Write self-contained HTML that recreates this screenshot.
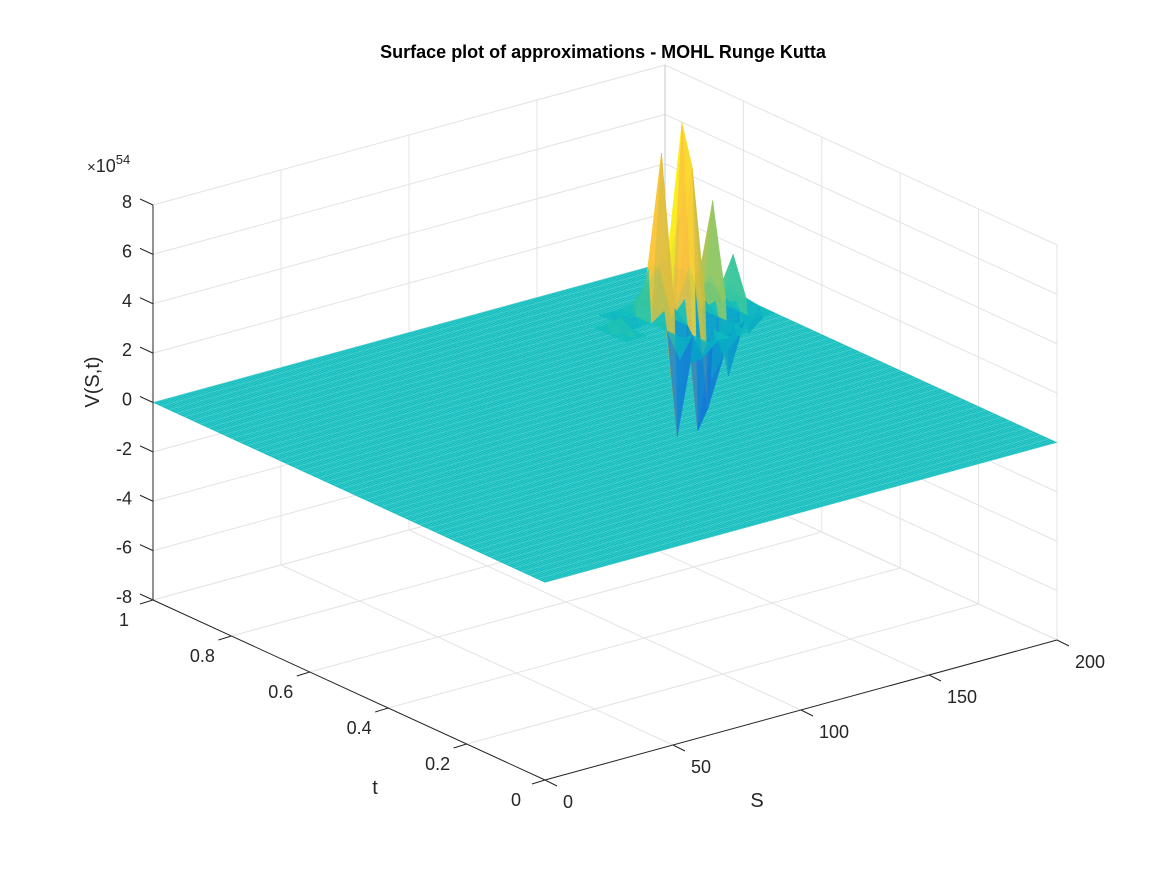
<!DOCTYPE html>
<html><head><meta charset="utf-8"><style>
html,body{margin:0;padding:0;background:#fff;}
svg{display:block;font-family:"Liberation Sans",Arial,sans-serif;}
</style></head><body>
<svg id="chart" width="1167" height="875" viewBox="0 0 1167 875" xmlns="http://www.w3.org/2000/svg">
<rect width="1167" height="875" fill="#fff"/>
<text x="603" y="58" text-anchor="middle" font-size="18" font-weight="bold" fill="#000">Surface plot of approximations - MOHL Runge Kutta</text>
<g id="grid"></g>
<g id="surf"></g>
<g id="axes"></g>
<text x="87" y="172" font-size="18" fill="#262626"><tspan font-size="15">×</tspan>10<tspan font-size="13" dy="-8">54</tspan></text>
<text transform="translate(99,382) rotate(-90)" text-anchor="middle" font-size="20" fill="#262626">V(S,t)</text>
<text x="375" y="794" text-anchor="middle" font-size="20" fill="#262626">t</text>
<text x="757" y="807" text-anchor="middle" font-size="20" fill="#262626">S</text>
</svg>
<script>
const sTicks=[0,50,100,150,200];
const tTicks=[0,0.2,0.4,0.6,0.8,1];
const zTicks=[-8,-6,-4,-2,0,2,4,6,8];
const sNodes=51, tNodes=26;
const spikeS=[168,176,180,188,196,168,176,180,188,196,168,176,184,172,180,152,160];
const spikeT=[0.80,0.80,0.80,0.80,0.80,0.76,0.76,0.76,0.76,0.76,0.84,0.84,0.84,0.72,0.72,0.80,0.84];
const spikeZ=[6.8,7.8,5.9,4.3,1.9,-4.4,-4.4,-3.6,-2.5,-1.0,1.2,1.6,1.0,-1.0,-1.2,0.6,-0.5];

const NS='http://www.w3.org/2000/svg';
const X0=545,Y0=780,SX=512/200,SY=-140/200,TX=-392,TY=-180,ZK=395/16;
function px(S,t,z){return [X0+S*SX+t*TX, Y0+S*SY+t*TY-(z+8)*ZK];}
function mk(tag,attrs,parent,name){const e=document.createElementNS(NS,tag);for(const k in attrs)e.setAttribute(k,attrs[k]);


parent.appendChild(e);return e;}
function line(a,b,stroke,w,parent,name){return mk('line',{x1:a[0],y1:a[1],x2:b[0],y2:b[1],stroke:stroke,'stroke-width':w},parent,name);}
const grid=document.getElementById('grid'),surf=document.getElementById('surf'),axes=document.getElementById('axes');
const gc='#e3e3e3';
sTicks.forEach(s=>line(px(s,0,-8),px(s,1,-8),gc,1,grid,'floor-gridline-s'));
tTicks.forEach(t=>line(px(0,t,-8),px(200,t,-8),gc,1,grid,'floor-gridline-t'));
zTicks.forEach(z=>line(px(0,1,z),px(200,1,z),gc,1,grid,'back-wall-gridline-z'));
sTicks.forEach(s=>line(px(s,1,-8),px(s,1,8),gc,1,grid,'back-wall-gridline-s'));
zTicks.forEach(z=>line(px(200,0,z),px(200,1,z),gc,1,grid,'side-wall-gridline-z'));
tTicks.forEach(t=>line(px(200,t,-8),px(200,t,8),gc,1,grid,'side-wall-gridline-t'));
line(px(200,1,-8),px(200,1,8),'#c8c8c8',1,grid,'back-corner-edge');

const stops=[[0,[53,42,135]],[0.1,[19,92,220]],[0.25,[20,133,212]],[0.4,[6,163,202]],[0.5,[15,190,190]],[0.6,[57,198,156]],[0.7,[125,203,115]],[0.8,[196,191,64]],[0.9,[252,189,61]],[1,[249,251,14]]];
function parula(z){let v=Math.max(0,Math.min(1,(z+8)/16));for(let i=1;i<stops.length;i++){if(v<=stops[i][0]){const a=stops[i-1],b=stops[i];const f=(v-a[0])/(b[0]-a[0]);return 'rgb('+a[1].map((c,k)=>Math.round(c+(b[1][k]-c)*f)).join(',')+')';}}return 'rgb(249,251,14)';}

const dS=200/(sNodes-1), dT=1/(tNodes-1);
const Z=[];for(let i=0;i<sNodes;i++){Z.push(new Array(tNodes).fill(0));}
spikeS.forEach((s,k)=>{const i=Math.round(s/dS),j=Math.round(spikeT[k]/dT);if(i>=0&&i<sNodes&&j>=0&&j<tNodes)Z[i][j]=spikeZ[k];});

const c=[px(0,0,0),px(200,0,0),px(200,1,0),px(0,1,0)];
mk('polygon',{points:c.map(p=>p.join(',')).join(' '),fill:'#0fbdbd'},surf,'surface-plane');
const mesh=mk('g',{},surf,'surface-mesh');
const meshDiv=4;
for(let i=0;i<=(sNodes-1)*meshDiv;i++)line(px(i*dS/meshDiv,0,0),px(i*dS/meshDiv,1,0),'#5fd3d3',0.5,mesh,'mesh-line-s');
for(let j=0;j<=(tNodes-1)*2;j++)line(px(0,j*dT/2,0),px(200,j*dT/2,0),'#5fd3d3',0.5,mesh,'mesh-line-t');
const faces=[];
for(let i=0;i<sNodes-1;i++)for(let j=0;j<tNodes-1;j++){
 const zs=[Z[i][j],Z[i+1][j],Z[i+1][j+1],Z[i][j+1]];
 if(zs.some(v=>v!==0))faces.push({i,j,zs,d:(i+0.5)*dS/200+(j+0.5)*dT});
}
faces.sort((a,b)=>b.d-a.d);
faces.forEach(f=>{
 const cs=[[f.i*dS,f.j*dT],[(f.i+1)*dS,f.j*dT],[(f.i+1)*dS,(f.j+1)*dT],[f.i*dS,(f.j+1)*dT]];
 // split into 4 triangles around centre for nicer peaks
 const zc=(f.zs[0]+f.zs[1]+f.zs[2]+f.zs[3])/4;
 const cc=[(f.i+0.5)*dS,(f.j+0.5)*dT];
 for(let k=0;k<4;k++){
  const a=cs[k],b=cs[(k+1)%4],za=f.zs[k],zb=f.zs[(k+1)%4];
  const pts=[px(a[0],a[1],za),px(b[0],b[1],zb),px(cc[0],cc[1],zc)];
  const m=Math.abs(za)>Math.abs(zb)?za:zb;
  const col=parula((m+zc)/2*1.5);
  mk('polygon',{points:pts.map(p=>p.join(',')).join(' '),fill:col,stroke:col,'stroke-width':0.4,opacity:0.8},surf,'spike-face');
 }
});

const ac='#262626';
line(px(0,1,-8),px(0,1,8),ac,1,axes,'z-axis-line');
line(px(0,1,-8),px(0,0,-8),ac,1,axes,'t-axis-line');
line(px(0,0,-8),px(200,0,-8),ac,1,axes,'s-axis-line');
function addText(x,y,str,anchor,name){const e=mk('text',{x:x,y:y,'text-anchor':anchor,'font-size':18,fill:'#262626'},axes,name);e.textContent=str;}
zTicks.forEach(z=>{const p=px(0,1,z);line(p,[p[0]-13,p[1]-6],ac,1,axes,'z-tick');addText(p[0]-21,p[1]+3,String(z),'end','z-tick-label');});
tTicks.forEach(t=>{const p=px(0,t,-8);line(p,[p[0]-13,p[1]+4],ac,1,axes,'t-tick');addText(p[0]-29,p[1]+26,String(t),'middle','t-tick-label');});
sTicks.forEach(s=>{const p=px(s,0,-8);line(p,[p[0]+12,p[1]+6],ac,1,axes,'s-tick');addText(p[0]+18,p[1]+28,String(s),'start','s-tick-label');});
</script>
</body></html>
